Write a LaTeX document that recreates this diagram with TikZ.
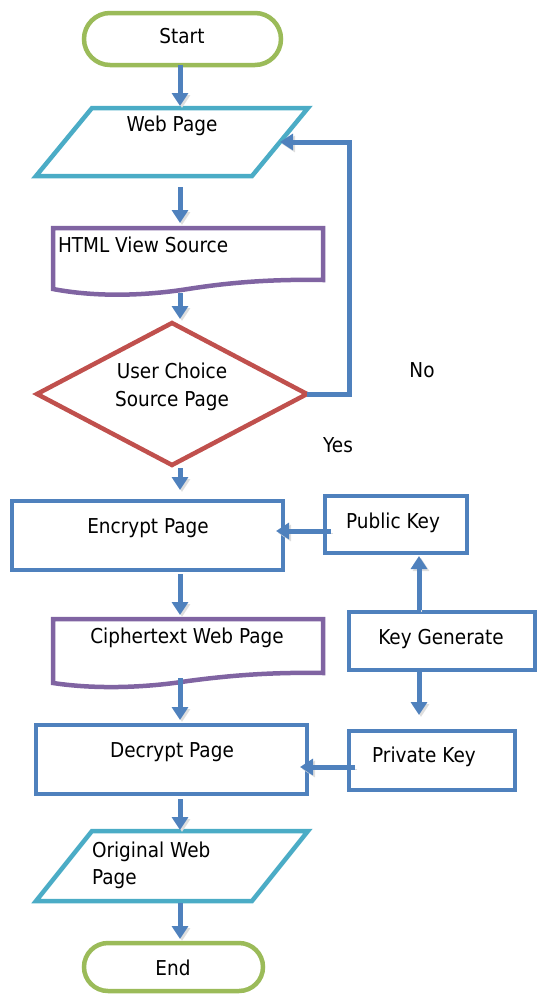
\documentclass[tikz,border=0pt]{standalone}
\usepackage{fontspec}
\setmainfont{DejaVu Sans}[FakeStretch=0.9]
\usetikzlibrary{arrows.meta,shapes.geometric}
\definecolor{cgreen}{HTML}{9BBB59}
\definecolor{cteal}{HTML}{4BACC6}
\definecolor{cpurple}{HTML}{8064A2}
\definecolor{cred}{HTML}{C0504D}
\definecolor{cblue}{HTML}{4F81BD}
\begin{document}
\begin{tikzpicture}[x=1pt,y=-1pt,
  every node/.style={font=\fontsize{20.5}{27.5}\selectfont, inner sep=0pt, outer sep=0pt},
  term/.style={draw=cgreen, line width=4.5pt, rectangle},
  procbox/.style={draw=cblue, line width=4.5pt, rectangle},
  ghost/.style={rectangle},
  iobox/.style={draw=cteal, line width=4.5pt, line join=miter},
  docbox/.style={draw=cpurple, line width=4.5pt, line join=miter},
  arr/.style={draw=cblue, line width=5pt, -{Triangle[width=16pt,length=13pt]},
    preaction={draw=black!13, transform canvas={shift={(2pt,-2pt)}}}}]
\useasboundingbox (0,0) rectangle (538,994);
\coordinate (col) at (180,0);
\coordinate (loop) at (349,0);
\coordinate (kx) at (419,0);
\coordinate (r1) at (0,531);
\coordinate (r2) at (0,767);

% Start
\node[term, rounded corners=26pt, minimum width=197pt, minimum height=52pt] (start) at (182.5,39) {};
\node (tstart) at (182,36) {Start};

% Web Page
\node[ghost, minimum width=216pt, minimum height=68pt] (web) at (172,142) {};
\draw[iobox] ([xshift=28pt]web.north west) -- ([xshift=28pt]web.north east) -- ([xshift=-28pt]web.south east) -- ([xshift=-28pt]web.south west) -- cycle;
\node (tweb) at (172,126) {Web Page};

% HTML View Source
\node[ghost, minimum width=270pt, minimum height=61pt] (html) at (188,258.5) {};
\draw[docbox] (53,289) -- (53,228) -- (323,228) -- (323,280)
  .. controls (268,279) and (226,283) .. (188,289)
  .. controls (150,295) and (100,298) .. (53,289) -- cycle;
\node[anchor=west] (thtml) at (58,245) {HTML View Source};

% Decision
\node[diamond, draw=cred, line width=4.5pt, minimum width=270pt, minimum height=142pt] (dec) at (172,394) {};
\node[align=center] (tdec) at (172,387) {User Choice\\Source Page};

\node (tno) at (422,370) {No};
\node (tyes) at (338,445) {Yes};

% Encrypt
\node[procbox, minimum width=271pt, minimum height=69pt] (enc) at (147.5,535.5) {};
\node (tenc) at (148,528) {Encrypt Page};

% Public key
\node[procbox, minimum width=142pt, minimum height=57pt] (pub) at (396,524.5) {};
\node (tpub) at (393,523) {Public Key};

% Key generate
\node[procbox, minimum width=186pt, minimum height=58pt] (kg) at (442,641) {};
\node (tkg) at (441,639) {Key Generate};

% Private key
\node[procbox, minimum width=166pt, minimum height=59pt] (priv) at (432,760.5) {};
\node (tpriv) at (424,757) {Private Key};

% Ciphertext
\node[ghost, minimum width=270pt, minimum height=64pt] (ciph) at (188,651) {};
\draw[docbox] (53,683) -- (53,619) -- (323,619) -- (323,673)
  .. controls (268,672) and (226,676) .. (188,681)
  .. controls (150,687) and (100,690) .. (53,683) -- cycle;
\node (tciph) at (187,638) {Ciphertext Web Page};

% Decrypt
\node[procbox, minimum width=271pt, minimum height=69pt] (decr) at (171.5,759.5) {};
\node (tdecr) at (172,752) {Decrypt Page};

% Original web page
\node[ghost, minimum width=216pt, minimum height=70pt] (orig) at (172,866) {};
\draw[iobox] ([xshift=28pt]orig.north west) -- ([xshift=28pt]orig.north east) -- ([xshift=-28pt]orig.south east) -- ([xshift=-28pt]orig.south west) -- cycle;
\node[anchor=west, align=left] (torig) at (92,865.5) {Original Web\\Page};

% End
\node[term, rounded corners=24pt, minimum width=179pt, minimum height=48pt] (end) at (173.5,967) {};
\node (tend) at (173,968) {End};

% Connectors
\draw[arr, shorten >=2pt] (start.south -| col) -- (web.north -| col);
\draw[arr, shorten >=5pt] ([yshift=-11pt]web.south -| col) -- (html.north -| col);
\draw[arr, shorten >=4pt] ([yshift=-4pt]html.south -| col) -- (dec.north -| col);
\draw[arr] (dec.east) -- (dec.east -| loop) -- (web.east -| loop) -- (web.east);
\draw[arr, shorten >=11pt] ([yshift=-3pt]dec.south -| col) -- (enc.north -| col);
\draw[arr, shorten >=4pt] ([yshift=-4pt]enc.south -| col) -- (ciph.north -| col);
\draw[arr, shorten >=5pt] ([yshift=5pt]ciph.south -| col) -- (decr.north -| col);
\draw[arr, shorten >=1pt] ([yshift=-5pt]decr.south -| col) -- (orig.north -| col);
\draw[arr, shorten >=4pt] ([yshift=-2pt]orig.south -| col) -- (end.north -| col);
\draw[arr] ([xshift=6pt]pub.west |- r1) -- ([xshift=-7pt]enc.east |- r1);
\draw[arr, shorten >=3pt] ([yshift=2pt]kg.north -| kx) -- (pub.south -| kx);
\draw[arr, shorten >=16pt] ([yshift=-2pt]kg.south -| kx) -- (priv.north -| kx);
\draw[arr] ([xshift=6pt]priv.west |- r2) -- ([xshift=-7pt]decr.east |- r2);
\end{tikzpicture}
\end{document}
